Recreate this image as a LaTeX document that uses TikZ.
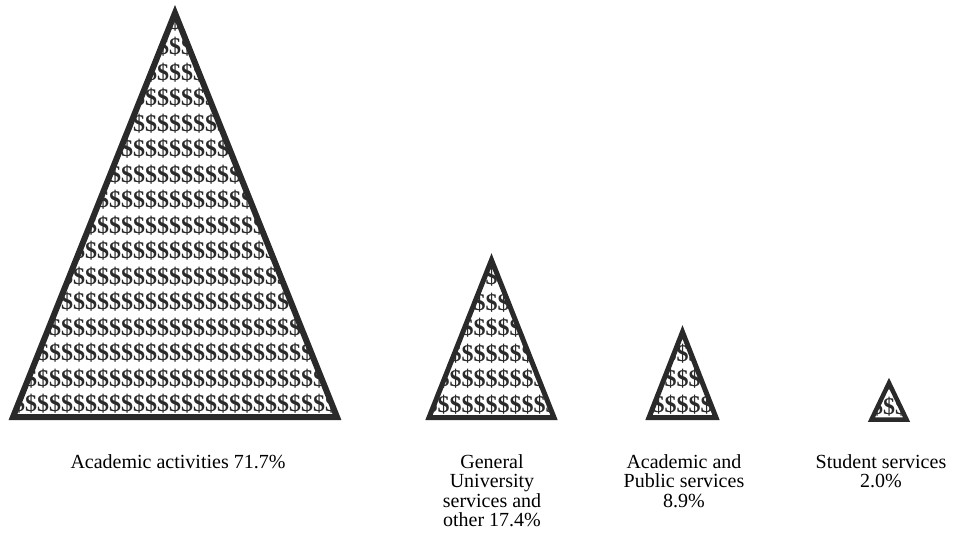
\documentclass[tikz,border=0pt]{standalone}
\usepackage{fontspec}
\setmainfont{Liberation Serif}
\definecolor{ink}{HTML}{2A2A2A}

% apex x, apex y, base y, half width, line width
\newcommand{\dollarpyramid}[5]{%
  \pgfmathtruncatemacro{\nrows}{(#3-#2)/25.5}
  \pgfmathtruncatemacro{\ncols}{#4/12+1}
  \begin{scope}
    \clip (#1,#2) -- (#1-#4,#3) -- (#1+#4,#3) -- cycle;
    \foreach \r in {0,...,\nrows} {
      \foreach \c in {-\ncols,...,\ncols} {
        \node[dollar] at (#1+\c*12, #3-13-\r*25.5) {\$};
      }
    }
  \end{scope}
  \draw[pyramid, line width=#5] (#1,#2) -- (#1-#4,#3) -- (#1+#4,#3) -- cycle;
}

\begin{document}
\begin{tikzpicture}[x=1pt, y=-1pt,
    pyramid/.style = {draw=ink, line join=miter},
    dollar/.style = {inner sep=0, text=ink,
        font=\fontsize{24}{24}\selectfont\bfseries},
    caption/.style = {anchor=north, inner sep=0, align=center,
        font=\fontsize{20}{19.5}\selectfont}]
  \useasboundingbox (0,0) rectangle (953,535);

  \dollarpyramid{175}{13}{417}{162}{6pt}
  \dollarpyramid{491.5}{260}{417.5}{62.5}{5pt}
  \dollarpyramid{682.5}{332}{417.5}{33.5}{5pt}
  \dollarpyramid{889}{383}{419.5}{17.5}{4.5pt}

  \node (acad) [caption] at (178,454) {Academic activities 71.7\%};
  \node (gen)  [caption] at (492,454) {General\\University\\services and\\other 17.4\%};
  \node (pub)  [caption] at (684,454) {Academic and\\Public services\\8.9\%};
  \node (stud) [caption] at (881,454) {Student services\\2.0\%};
\end{tikzpicture}
\end{document}
